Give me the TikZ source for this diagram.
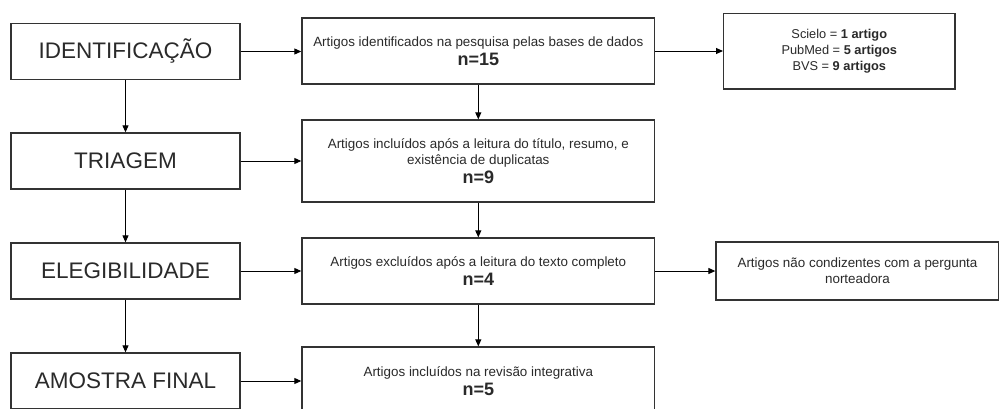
\documentclass[tikz,border=0pt]{standalone}
\usepackage{fontspec}
\setmainfont{Liberation Sans}
\usetikzlibrary{arrows.meta}
\definecolor{ink}{HTML}{2A2A2A}
\definecolor{edge}{HTML}{333333}
\tikzset{
  box/.style={draw=edge, line width=1.3pt, fill=white, inner sep=2pt, align=center, text=ink},
  stage/.style={box, minimum width=229pt, minimum height=56pt, font=\fontsize{22.5}{26}\selectfont},
  info/.style={box, font=\fontsize{13.4}{16}\selectfont},
  conn/.style={draw=black, line width=1pt, -{Triangle[length=7pt,width=6pt]}},
}
\newcommand{\nval}[1]{\\[3pt]{\fontsize{18}{20}\selectfont\bfseries #1}}
\begin{document}
\begin{tikzpicture}[x=1pt,y=-1pt]
\useasboundingbox (0,0) rectangle (999,408);
\clip (0,0) rectangle (999,408);
\fill[white] (0,0) rectangle (999,408);
% left stages
\node[stage] (s1) at (125.5,51.5) {IDENTIFICAÇÃO};
\node[stage] (s2) at (125.5,161) {TRIAGEM};
\node[stage] (s3) at (125.5,271) {ELEGIBILIDADE};
\node[stage] (s4) at (125.5,381) {AMOSTRA FINAL};
% middle boxes
\node[info, minimum width=352.7pt, minimum height=66pt] (m1) at (478.3,51) {Artigos identificados na pesquisa pelas bases de dados\nval{n=15}};
\node[info, minimum width=352.7pt, minimum height=82pt] (m2) at (478.3,161) {Artigos incluídos após a leitura do título, resumo, e\\existência de duplicatas\nval{n=9}};
\node[info, minimum width=352.7pt, minimum height=66pt] (m3) at (478.3,271) {Artigos excluídos após a leitura do texto completo\nval{n=4}};
\node[info, minimum width=352.7pt, minimum height=68pt] (m4) at (478.3,381) {Artigos incluídos na revisão integrativa\nval{n=5}};
% right boxes
\node[info, font=\fontsize{12.8}{16}\selectfont, minimum width=231.3pt, minimum height=75.3pt] (r1) at (839.3,51.3) {Scielo = \textbf{1 artigo}\\PubMed = \textbf{5 artigos}\\BVS = \textbf{9 artigos}};
\node[info, minimum width=283pt, minimum height=58pt] (r2) at (857.5,271) {Artigos não condizentes com a pergunta\\norteadora};
% connectors
\draw[conn] (s1) -- (s2);
\draw[conn] (s2) -- (s3);
\draw[conn] (s3) -- (s4);
\draw[conn] (s1.east) -- (m1.west |- s1.east);
\draw[conn] (s2.east) -- (m2.west |- s2.east);
\draw[conn] (s3.east) -- (m3.west |- s3.east);
\draw[conn] (s4.east) -- (m4.west |- s4.east);
\draw[conn] (m1) -- (m2);
\draw[conn] (m2) -- (m3);
\draw[conn] (m3) -- (m4);
\draw[conn] (m1.east) -- (r1.west |- m1.east);
\draw[conn] (m3.east) -- (r2.west |- m3.east);
\end{tikzpicture}
\end{document}
